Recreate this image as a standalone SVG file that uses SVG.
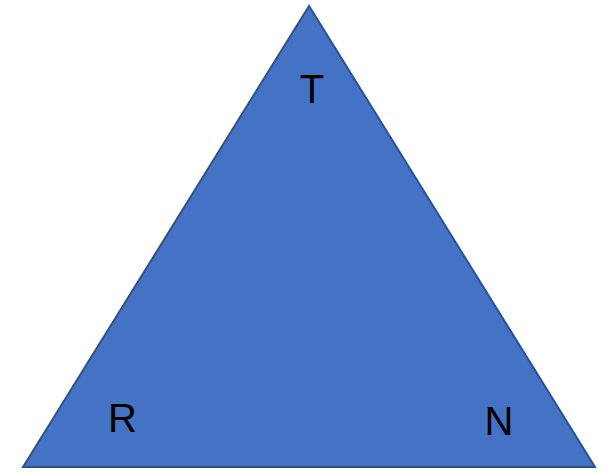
<svg xmlns="http://www.w3.org/2000/svg" width="610" height="472" viewBox="0 0 610 472">
<style>
.lbl{font-family:"Liberation Sans",Arial,sans-serif;font-size:40px;fill:#000;text-anchor:middle}
</style>
<rect width="610" height="472" fill="#fff"/>
<g id="triangle">
<polygon points="309,6 23,467 595,467" fill="#4472C4" stroke="#2F528F" stroke-width="2" stroke-linejoin="miter"/>
</g>
<g id="node-T"><text class="lbl" x="312" y="103">T</text></g>
<g id="node-R"><text class="lbl" x="122.5" y="432">R</text></g>
<g id="node-N"><text class="lbl" x="499" y="435">N</text></g>
<g id="connectors"></g>
</svg>
